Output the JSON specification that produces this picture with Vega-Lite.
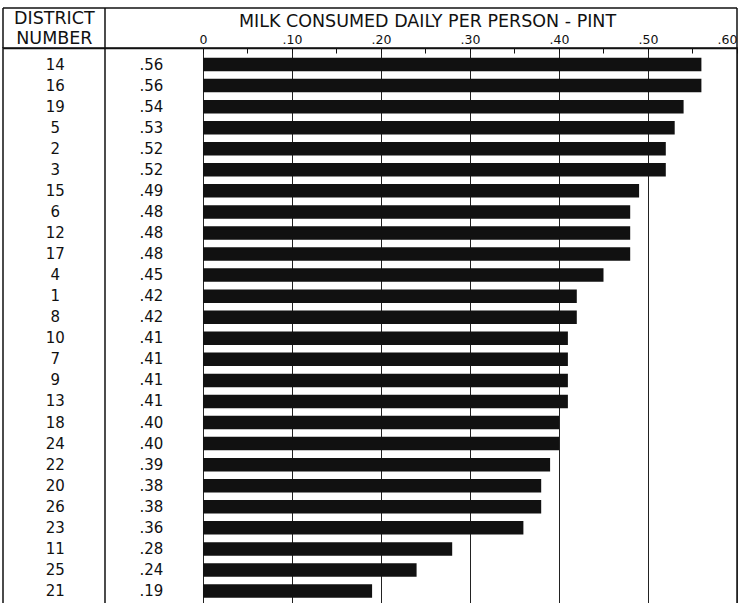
{
  "$schema": "https://vega.github.io/schema/vega-lite/v6.json",
  "width": 734,
  "height": 562,
  "autosize": "none",
  "padding": {"left": 3, "top": 48, "right": 5, "bottom": 0},
  "background": "white",
  "config": {
    "view": {"stroke": "#111", "strokeWidth": 1.5},
    "font": "DejaVu Sans",
    "text": {"font": "DejaVu Sans", "color": "#111"}
  },
  "datasets": {
    "milk": [
      {"district": "14", "value": 0.56},
      {"district": "16", "value": 0.56},
      {"district": "19", "value": 0.54},
      {"district": "5", "value": 0.53},
      {"district": "2", "value": 0.52},
      {"district": "3", "value": 0.52},
      {"district": "15", "value": 0.49},
      {"district": "6", "value": 0.48},
      {"district": "12", "value": 0.48},
      {"district": "17", "value": 0.48},
      {"district": "4", "value": 0.45},
      {"district": "1", "value": 0.42},
      {"district": "8", "value": 0.42},
      {"district": "10", "value": 0.41},
      {"district": "7", "value": 0.41},
      {"district": "9", "value": 0.41},
      {"district": "13", "value": 0.41},
      {"district": "18", "value": 0.40},
      {"district": "24", "value": 0.40},
      {"district": "22", "value": 0.39},
      {"district": "20", "value": 0.38},
      {"district": "26", "value": 0.38},
      {"district": "23", "value": 0.36},
      {"district": "11", "value": 0.28},
      {"district": "25", "value": 0.24},
      {"district": "21", "value": 0.19}
    ],
    "one": [{}]
  },
  "layer": [
    {
      "data": {"name": "milk"},
      "transform": [{"window": [{"op": "row_number", "as": "row"}]}],
      "mark": {"type": "bar", "orient": "horizontal", "size": 13.5, "color": "#111"},
      "encoding": {
        "x": {
          "field": "value",
          "type": "quantitative",
          "scale": {"domain": [-0.2247, 0.6], "nice": false, "zero": false, "padding": 0},
          "axis": {
            "orient": "top",
            "title": "MILK CONSUMED DAILY PER PERSON - PINT",
            "titleFont": "DejaVu Sans",
            "titleFontSize": 17.5,
            "titleFontWeight": "normal",
            "titleColor": "#111",
            "titlePadding": 3,
            "titleX": 424,
            "titleAlign": "center",
            "values": [0, 0.05, 0.1, 0.15, 0.2, 0.25, 0.3, 0.35, 0.4, 0.45, 0.5, 0.55, 0.6],
            "labelExpr": "round(datum.value*20) % 2 == 1 ? '' : (datum.value == 0 ? '0' : replace(format(datum.value, '.2f'), '0.', '.'))",
            "labelFont": "DejaVu Sans",
            "labelFontSize": 12.5,
            "labelColor": "#111",
            "labelPadding": 7,
            "labelAlign": {"condition": {"test": "datum.value > 0.59", "value": "right"}, "value": "center"},
            "labelOverlap": false,
            "tickSize": -5,
            "tickColor": "#111",
            "tickWidth": 1,
            "domain": true,
            "domainColor": "#111",
            "domainWidth": 1.5,
            "grid": true,
            "gridColor": "#222",
            "gridWidth": 1,
            "gridOpacity": {"condition": {"test": "round(datum.value*20) % 2 == 1", "value": 0}, "value": 1}
          }
        },
        "y": {
          "field": "row",
          "type": "quantitative",
          "scale": {"domain": [0.2165, 26.9], "reverse": true, "nice": false, "zero": false, "padding": 0},
          "axis": null
        }
      }
    },
    {
      "data": {"name": "milk"},
      "transform": [{"window": [{"op": "row_number", "as": "row"}]}],
      "mark": {"type": "text", "fontSize": 15, "align": "center", "baseline": "middle"},
      "encoding": {
        "x": {"datum": -0.166, "type": "quantitative", "scale": {"domain": [-0.2247, 0.6], "nice": false, "zero": false, "padding": 0}},
        "y": {"field": "row", "type": "quantitative", "scale": {"domain": [0.2165, 26.9], "reverse": true, "nice": false, "zero": false, "padding": 0}},
        "text": {"field": "district"}
      }
    },
    {
      "data": {"name": "milk"},
      "transform": [
        {"window": [{"op": "row_number", "as": "row"}]},
        {"calculate": "replace(format(datum.value, '.2f'), '0.', '.')", "as": "label"}
      ],
      "mark": {"type": "text", "fontSize": 15, "align": "center", "baseline": "middle"},
      "encoding": {
        "x": {"datum": -0.058, "type": "quantitative", "scale": {"domain": [-0.2247, 0.6], "nice": false, "zero": false, "padding": 0}},
        "y": {"field": "row", "type": "quantitative", "scale": {"domain": [0.2165, 26.9], "reverse": true, "nice": false, "zero": false, "padding": 0}},
        "text": {"field": "label"}
      }
    },
    {
      "data": {"name": "one"},
      "mark": {"type": "rule", "color": "#111", "strokeWidth": 1.5, "clip": false},
      "encoding": {
        "x": {"datum": -0.1101, "type": "quantitative", "scale": {"domain": [-0.2247, 0.6], "nice": false, "zero": false, "padding": 0}},
        "y": {"datum": -1.683, "type": "quantitative", "scale": {"domain": [0.2165, 26.9], "reverse": true, "nice": false, "zero": false, "padding": 0}},
        "y2": {"datum": 26.9}
      }
    },
    {
      "data": {"name": "one"},
      "mark": {"type": "rule", "color": "#111", "strokeWidth": 1.5, "clip": false},
      "encoding": {
        "x": {"datum": -0.2247, "type": "quantitative", "scale": {"domain": [-0.2247, 0.6], "nice": false, "zero": false, "padding": 0}},
        "x2": {"datum": 0.6},
        "y": {"datum": -1.683, "type": "quantitative", "scale": {"domain": [0.2165, 26.9], "reverse": true, "nice": false, "zero": false, "padding": 0}}
      }
    },
    {
      "data": {"name": "one"},
      "mark": {"type": "rule", "color": "#111", "strokeWidth": 1.5, "clip": false},
      "encoding": {
        "x": {"datum": -0.2247, "type": "quantitative", "scale": {"domain": [-0.2247, 0.6], "nice": false, "zero": false, "padding": 0}},
        "y": {"datum": -1.683, "type": "quantitative", "scale": {"domain": [0.2165, 26.9], "reverse": true, "nice": false, "zero": false, "padding": 0}},
        "y2": {"datum": 0.2165}
      }
    },
    {
      "data": {"name": "one"},
      "mark": {"type": "rule", "color": "#111", "strokeWidth": 1.5, "clip": false},
      "encoding": {
        "x": {"datum": 0.6, "type": "quantitative", "scale": {"domain": [-0.2247, 0.6], "nice": false, "zero": false, "padding": 0}},
        "y": {"datum": -1.683, "type": "quantitative", "scale": {"domain": [0.2165, 26.9], "reverse": true, "nice": false, "zero": false, "padding": 0}},
        "y2": {"datum": 0.2165}
      }
    },
    {
      "data": {"name": "one"},
      "mark": {"type": "text", "fontSize": 17.5, "align": "center", "baseline": "middle", "lineHeight": 20, "clip": false},
      "encoding": {
        "x": {"datum": -0.167, "type": "quantitative", "scale": {"domain": [-0.2247, 0.6], "nice": false, "zero": false, "padding": 0}},
        "y": {"datum": -1.184, "type": "quantitative", "scale": {"domain": [0.2165, 26.9], "reverse": true, "nice": false, "zero": false, "padding": 0}},
        "text": {"value": ["DISTRICT", "NUMBER"]}
      }
    }
  ]
}
